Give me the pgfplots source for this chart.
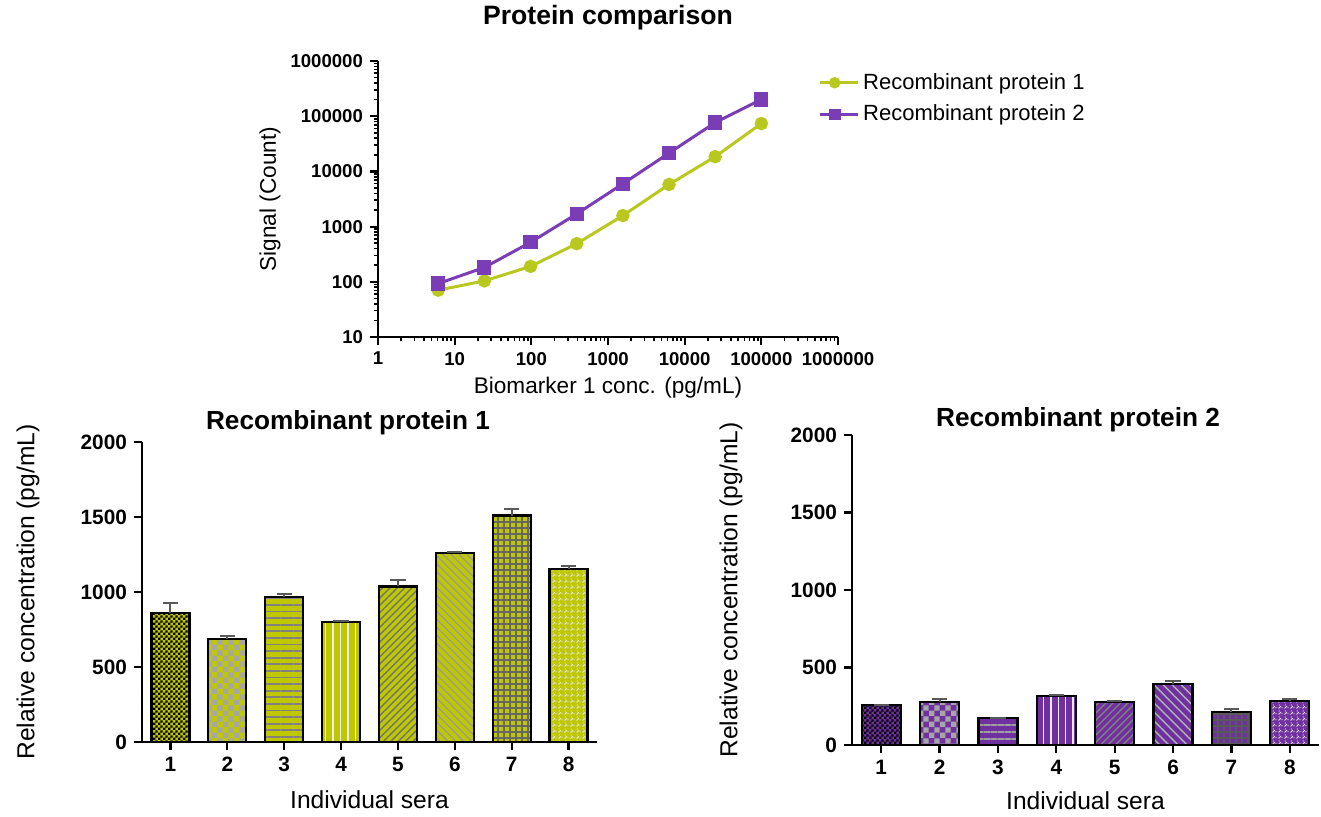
\documentclass[border=0pt]{standalone}
\usepackage{fontspec}
\setmainfont{Liberation Sans}
\usepackage{pgfplots}
\pgfplotsset{compat=1.18}
\usetikzlibrary{patterns,patterns.meta}

\definecolor{ygline}{HTML}{B8C81E}
\definecolor{ygbar}{HTML}{BFC700}
\definecolor{puline}{HTML}{7A3DB5}
\definecolor{pubar}{HTML}{7030A0}

\pgfdeclarepatternformonly{finecheck}{\pgfqpoint{0pt}{0pt}}{\pgfqpoint{2.4pt}{2.4pt}}{\pgfqpoint{2.4pt}{2.4pt}}{%
  \pgfpathrectangle{\pgfqpoint{0pt}{0pt}}{\pgfqpoint{1.2pt}{1.2pt}}%
  \pgfpathrectangle{\pgfqpoint{1.2pt}{1.2pt}}{\pgfqpoint{1.2pt}{1.2pt}}%
  \pgfusepath{fill}}
\pgfdeclarepatternformonly{bigcheck}{\pgfqpoint{0pt}{0pt}}{\pgfqpoint{5.6pt}{5.6pt}}{\pgfqpoint{5.6pt}{5.6pt}}{%
  \pgfpathrectangle{\pgfqpoint{0pt}{0pt}}{\pgfqpoint{2.8pt}{2.8pt}}%
  \pgfpathrectangle{\pgfqpoint{2.8pt}{2.8pt}}{\pgfqpoint{2.8pt}{2.8pt}}%
  \pgfusepath{fill}}
\pgfdeclarepatternformonly{dashweave}{\pgfqpoint{0pt}{0pt}}{\pgfqpoint{3pt}{3pt}}{\pgfqpoint{3pt}{3pt}}{%
  \pgfsetlinewidth{0.6pt}%
  \pgfpathmoveto{\pgfqpoint{0.3pt}{0.3pt}}\pgfpathlineto{\pgfqpoint{1.6pt}{1.6pt}}\pgfusepath{stroke}%
  \pgfpathcircle{\pgfqpoint{2.3pt}{0.7pt}}{0.35pt}%
  \pgfpathcircle{\pgfqpoint{0.7pt}{2.3pt}}{0.35pt}\pgfusepath{fill}}

\pgfplotsset{
  /pgf/number format/1000 sep={},
  mb/.style n args={4}{ybar, bar width=#4, bar shift=0pt, draw=black, line width=1.1pt,
    fill=#1, postaction={pattern={#2}, pattern color=#3},
    /pgfplots/error bars/y dir=plus, /pgfplots/error bars/y explicit,
    /pgfplots/error bars/error bar style={line width=1pt, draw=black!65},
    /pgfplots/error bars/error mark options={rotate=90, mark size=3.8pt, line width=1pt, draw=black!65}},
  mystyle/.style={
    scale only axis, anchor=south west,
    axis lines=left, axis line style={-, line width=1.25pt},
    tick align=outside, major tick length=4pt, minor tick length=2pt,
    every tick/.style={black, line width=1.1pt},
    /pgf/number format/assume math mode=true,
    clip=false,
  },
}

\begin{document}
\begin{tikzpicture}
\useasboundingbox (0,0) rectangle (660.5pt,-408pt);

% ---------- top: log-log comparison
\begin{axis}[mystyle,
  at={(189pt,-168.5pt)}, width=230pt, height=138pt,
  xmode=log, ymode=log, xmin=1, xmax=1000000, ymin=10, ymax=1000000,
  xtick={1,10,100,1000,10000,100000,1000000},
  ytick={10,100,1000,10000,100000,1000000},
  log ticks with fixed point,
  minor tick style={line width=0.8pt},
  tick label style={font=\bfseries\fontsize{9.3}{10}\selectfont},
  xlabel={Biomarker 1 conc. (pg/mL)},
  ylabel={Signal (Count)},
  title={Protein comparison},
  every axis x label/.style={at={(axis description cs:0.5,-0.1848)}, anchor=center},
  every axis y label/.style={at={(axis description cs:-0.2348,0.5)}, anchor=center, rotate=90},
  every axis title/.style={at={(axis description cs:0.5,1.156)}, anchor=center},
  label style={font=\fontsize{11.3}{13}\selectfont},
  title style={font=\bfseries\fontsize{13.3}{15}\selectfont},
  legend style={draw=none, fill=none, at={(axis description cs:0.943,0.986)}, anchor=north west,
    font=\fontsize{11}{13}\selectfont, row sep=2.4pt},
  legend cell align=left,
  legend image code/.code={\path (0pt,0pt) -- (19pt,0pt);
    \draw[mark repeat=2,mark phase=2,#1, mark options={scale=0.8}] plot coordinates {(0pt,0pt) (7.5pt,0pt) (15pt,0pt)};},
]
\addplot[color=ygline, line width=1.5pt, mark=*, mark size=2.6pt] coordinates {
  (6.1,70.5) (24.4,104) (97.7,190) (390.6,491) (1562.5,1585) (6250,5800) (25000,18500) (100000,73600)};
\addlegendentry{Recombinant protein 1}
\addplot[color=puline, line width=1.5pt, mark=square*, mark size=2.8pt] coordinates {
  (6.1,93) (24.4,182) (97.7,519) (390.6,1700) (1562.5,5970) (6250,21500) (25000,76700) (100000,201000)};
\addlegendentry{Recombinant protein 2}
\end{axis}

% ---------- bottom left
\begin{axis}[mystyle,
  at={(71pt,-371pt)}, width=227.5pt, height=150pt,
  xmin=0.5, xmax=8.5, ymin=0, ymax=2000,
  xtick={1,2,3,4,5,6,7,8}, ytick={0,500,1000,1500,2000},
  ybar,
  tick label style={font=\bfseries\fontsize{10.4}{12}\selectfont},
  xlabel={Individual sera},
  ylabel={Relative concentration (pg/mL)},
  title={Recombinant protein 1},
  every axis x label/.style={at={(axis description cs:0.5,-0.1933)}, anchor=center},
  every axis y label/.style={at={(axis description cs:-0.2505,0.5)}, anchor=center, rotate=90},
  every axis title/.style={at={(axis description cs:0.4527,1.0633)}, anchor=center},
  label style={font=\fontsize{12.3}{14}\selectfont},
  title style={font=\bfseries\fontsize{13.1}{15}\selectfont},
]
\addplot[mb={ygbar}{finecheck}{black}{19pt}] coordinates {(1,858) +- (0,71)};
\addplot[mb={ygbar}{bigcheck}{black!35}{19pt}] coordinates {(2,685) +- (0,22)};
\addplot[mb={ygbar}{Lines[angle=0,distance=3.3pt,line width=0.9pt]}{black!50}{19pt}] coordinates {(3,967) +- (0,18)};
\addplot[mb={ygbar}{Lines[angle=90,distance=3.7pt,line width=0.7pt]}{white!92!black}{19pt}] coordinates {(4,798) +- (0,8)};
\addplot[mb={ygbar}{Lines[angle=45,distance=2.6pt,line width=0.7pt]}{black!55}{19pt}] coordinates {(5,1037) +- (0,42)};
\addplot[mb={ygbar}{Lines[angle=-45,distance=2.8pt,line width=0.6pt]}{black!40}{19pt}] coordinates {(6,1258) +- (0,6)};
\addplot[mb={ygbar}{Hatch[angle=0,distance=3pt,line width=0.7pt]}{black!60}{19pt}] coordinates {(7,1510) +- (0,42)};
\addplot[mb={ygbar}{dashweave}{white!90!black}{19pt}] coordinates {(8,1156) +- (0,18)};
\end{axis}

% ---------- bottom right
\begin{axis}[mystyle,
  at={(426pt,-372.5pt)}, width=233.5pt, height=155pt,
  xmin=0.5, xmax=8.5, ymin=0, ymax=2000,
  xtick={1,2,3,4,5,6,7,8}, ytick={0,500,1000,1500,2000},
  ybar,
  tick label style={font=\bfseries\fontsize{10.4}{12}\selectfont},
  xlabel={Individual sera},
  ylabel={Relative concentration (pg/mL)},
  title={Recombinant protein 2},
  every axis x label/.style={at={(axis description cs:0.5,-0.1806)}, anchor=center},
  every axis y label/.style={at={(axis description cs:-0.259,0.5)}, anchor=center, rotate=90},
  every axis title/.style={at={(axis description cs:0.484,1.0484)}, anchor=center},
  label style={font=\fontsize{12.3}{14}\selectfont},
  title style={font=\bfseries\fontsize{13.1}{15}\selectfont},
]
\addplot[mb={pubar}{finecheck}{black}{19.5pt}] coordinates {(1,256) +- (0,5)};
\addplot[mb={pubar}{bigcheck}{black!35}{19.5pt}] coordinates {(2,276) +- (0,18)};
\addplot[mb={pubar}{Lines[angle=0,distance=3.5pt,line width=0.9pt]}{black!38}{19.5pt}] coordinates {(3,173) +- (0,3)};
\addplot[mb={pubar}{Lines[angle=90,distance=3.7pt,line width=0.7pt]}{white!92!black}{19.5pt}] coordinates {(4,314) +- (0,9)};
\addplot[mb={pubar}{Lines[angle=45,distance=2.6pt,line width=0.7pt]}{black!50}{19.5pt}] coordinates {(5,276) +- (0,8)};
\addplot[mb={pubar}{Lines[angle=-45,distance=3.2pt,line width=0.7pt]}{black!30}{19.5pt}] coordinates {(6,393) +- (0,22)};
\addplot[mb={pubar}{Hatch[angle=0,distance=3pt,line width=0.7pt]}{black!65}{19.5pt}] coordinates {(7,213) +- (0,18)};
\addplot[mb={pubar}{dashweave}{white!90!black}{19.5pt}] coordinates {(8,283) +- (0,12)};
\end{axis}
\end{tikzpicture}
\end{document}
